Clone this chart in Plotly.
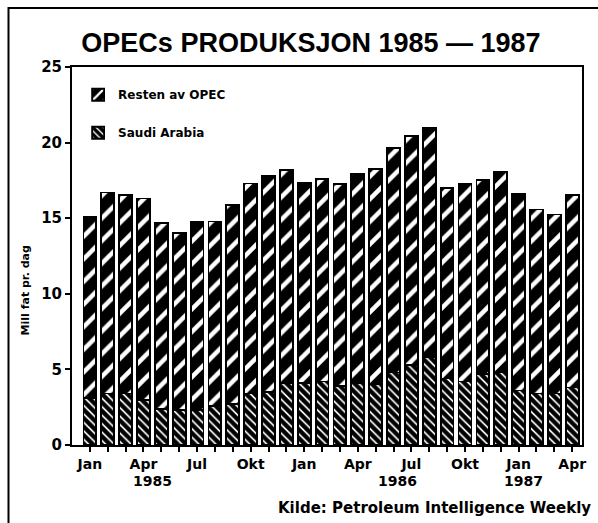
import plotly.graph_objects as go

# ---- data (million barrels per day), Jan 1985 - Apr 1987 ----
categories = [
    "1985-01", "1985-02", "1985-03", "1985-04", "1985-05", "1985-06",
    "1985-07", "1985-08", "1985-09", "1985-10", "1985-11", "1985-12",
    "1986-01", "1986-02", "1986-03", "1986-04", "1986-05", "1986-06",
    "1986-07", "1986-08", "1986-09", "1986-10", "1986-11", "1986-12",
    "1987-01", "1987-02", "1987-03", "1987-04",
]
saudi_arabia = [3.1, 3.4, 3.4, 3.0, 2.4, 2.3, 2.3, 2.6, 2.7, 3.4, 3.5, 4.1,
                4.1, 4.2, 3.9, 4.1, 4.0, 4.8, 5.3, 5.8, 4.4, 4.2, 4.7, 4.8,
                3.6, 3.4, 3.4, 3.8]
resten_av_opec = [12.0, 13.3, 13.15, 13.3, 12.27, 11.7, 12.43, 12.18, 13.15, 13.9, 14.3, 14.1,
                  13.23, 13.4, 13.34, 13.83, 14.24, 14.82, 15.12, 15.2, 12.58, 13.07, 12.85, 13.29,
                  13.0, 12.18, 11.85, 12.73]
month_ticks = ["Jan", "", "", "Apr", "", "", "Jul", "", "", "Okt", "", "",
               "Jan", "", "", "Apr", "", "", "Jul", "", "", "Okt", "", "",
               "Jan", "", "", "Apr"]
year_labels = ["1985", "1986", "1987"]
year_label_pos = [3.5, 17.2, 24.3]
y_ticks = [0, 5, 10, 15, 20, 25]

FONT = "DejaVu Sans, Liberation Sans, sans-serif"
TFONT = "Liberation Sans, Arial, sans-serif"
x = list(range(len(categories)))

fig = go.Figure()
fig.add_trace(go.Bar(
    x=x, y=saudi_arabia, name="Saudi Arabia", legendgroup="saudi", legendrank=2,
    marker=dict(color="white",
                line=dict(color="black", width=1.8),
                pattern=dict(shape="\\", fgcolor="black", bgcolor="white",
                             size=6, solidity=0.72, fillmode="replace")),
))
fig.add_trace(go.Bar(
    x=x, y=resten_av_opec, name="Resten av OPEC", legendgroup="resten", legendrank=1,
    marker=dict(color="black",
                line=dict(color="black", width=1.8),
                pattern=dict(shape="/", fgcolor="white", bgcolor="black",
                             size=16, solidity=0.28, fillmode="replace")),
))

annotations = [
    dict(x=p, y=0, xref="x", yref="paper", text=t, showarrow=False,
         yanchor="middle", yshift=-36,
         font=dict(family=FONT, size=14, color="black", weight="bold"))
    for t, p in zip(year_labels, year_label_pos)
]
annotations.append(dict(
    x=1.022, y=-0.166, xref="paper", yref="paper", xanchor="right", yanchor="middle",
    text="Kilde: Petroleum Intelligence Weekly", showarrow=False,
    font=dict(family=FONT, size=15, color="black", weight="bold")))
annotations.append(dict(
    x=-47 / 514, y=0.41, xref="paper", yref="paper", xanchor="center", yanchor="middle",
    text="Mill fat pr. dag", textangle=-90, showarrow=False,
    font=dict(family=FONT, size=11, color="black", weight="bold")))

fig.update_layout(
    width=598, height=523,
    margin=dict(l=72, r=12, t=67, b=78),
    paper_bgcolor="white", plot_bgcolor="white",
    barmode="stack", bargap=0.28,
    font=dict(family=FONT, color="black", weight="bold"),
    title=dict(text="OPECs PRODUKSJON 1985 — 1987", x=0.52, xanchor="center",
               y=0.918, yanchor="middle",
               font=dict(family=TFONT, size=27, color="black", weight="bold")),
    legend=dict(x=0.012, y=0.965, xanchor="left", yanchor="top",
                traceorder="grouped", tracegroupgap=19,
                bgcolor="rgba(0,0,0,0)",
                font=dict(family=FONT, size=12, color="black", weight="bold")),
    xaxis=dict(range=[-1, 27.55], tickmode="array", tickvals=x, ticktext=month_ticks,
               showline=True, linecolor="black", linewidth=2, mirror=True,
               ticks="outside", ticklen=5, tickwidth=1.5, tickcolor="black",
               showgrid=False, zeroline=False,
               tickfont=dict(family=FONT, size=14, color="black", weight="bold")),
    yaxis=dict(range=[0, 25], tickvals=y_ticks,
               showline=True, linecolor="black", linewidth=2, mirror=True,
               ticks="outside", ticklen=5, tickwidth=1.5, tickcolor="black",
               showgrid=False, zeroline=False,
               tickfont=dict(family=FONT, size=15, color="black", weight="bold")),
    annotations=annotations,
    shapes=[dict(type="rect", xref="paper", yref="paper",
                 x0=-64 / 514, x1=1 + 40 / 514, y0=-1.0, y1=1 + 59 / 378,
                 line=dict(color="black", width=2), fillcolor="rgba(0,0,0,0)",
                 layer="below")],
)

fig.write_html("out.html", config={"displayModeBar": False},
               post_script="document.body.style.margin='0';")
